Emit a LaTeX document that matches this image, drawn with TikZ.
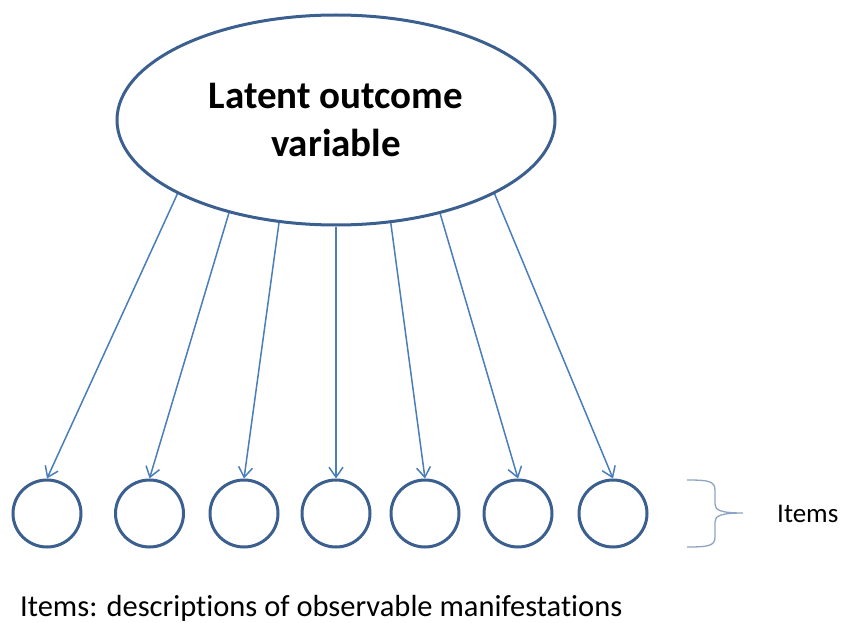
\documentclass[tikz,border=0pt]{standalone}
\usepackage{fontspec}
\setmainfont{Carlito}[Ligatures={NoCommon}]
\usetikzlibrary{arrows.meta,shapes.geometric}
\definecolor{edgeblue}{HTML}{3B5F8E}
\definecolor{arrowblue}{HTML}{4A7EBB}
\definecolor{bracegray}{HTML}{8FA4C2}
\tikzset{
  latent/.style={ellipse, draw=edgeblue, line width=3pt, minimum width=438pt, minimum height=210pt, inner sep=0pt, align=center, font=\fontsize{39}{48}\selectfont\bfseries},
  item/.style={ellipse, draw=edgeblue, line width=3pt, minimum width=68pt, minimum height=67pt, inner sep=0pt},
  load/.style={draw=arrowblue, line width=1.5pt, -{Straight Barb[length=10pt,width=14pt,line width=1.5pt]}},
  brace/.style={draw=bracegray, line width=1.3pt},
  lbl/.style={inner sep=0pt, anchor=base west}
}
\begin{document}
\begin{tikzpicture}[x=1pt,y=-1pt]
\useasboundingbox (0,0) rectangle (846,623);
\node[latent] (L) at (336,120) {Latent outcome\\variable};
\node[item] (c1) at (47,513.5) {};
\node[item] (c2) at (149.5,513.5) {};
\node[item] (c3) at (244,513.5) {};
\node[item] (c4) at (336,513.5) {};
\node[item] (c5) at (425,513.5) {};
\node[item] (c6) at (518,513.5) {};
\node[item] (c7) at (613,513.5) {};
\draw[load] (L.205) -- (c1.north);
\draw[load] (L.221) -- (c2.north);
\draw[load] (L.241) -- (c3.north);
\draw[load] (L.270) -- (c4.north);
\draw[load] (L.298) -- (c5.north);
\draw[load] (L.318) -- (c6.north);
\draw[load] (L.335) -- (c7.north);
\coordinate (btip) at (743,513);
\draw[brace] (687,480) .. controls (708,480) and (715,481) .. (715,490) -- (715,504)
  .. controls (715,510) and (720,513) .. (btip)
  .. controls (720,513) and (715,516) .. (715,522) -- (715,537)
  .. controls (715,546) and (708,547) .. (687,547);
\node[lbl, font=\fontsize{27}{32}\selectfont] (items) at (777,522) {Items};
\node[lbl, font=\fontsize{30.5}{36}\selectfont] (desc) at (20,616) {Items: descriptions of observable manifestations};
\end{tikzpicture}
\end{document}
